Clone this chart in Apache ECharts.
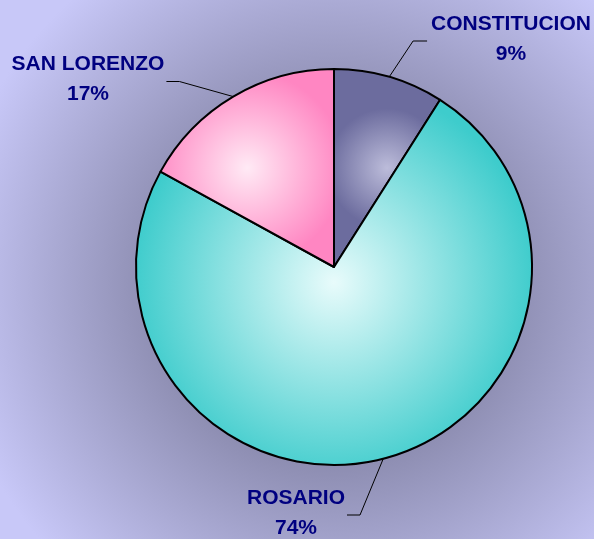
<!DOCTYPE html>
<html>
<head>
<meta charset="utf-8">
<script src="https://cdn.jsdelivr.net/npm/echarts@6/dist/echarts.min.js"></script>
<style>
html,body{margin:0;padding:0;width:594px;height:539px;overflow:hidden;}
#chart{width:594px;height:539px;}
</style>
</head>
<body>
<div id="chart"></div>
<script>
// ---- data ----
var categories = ['CONSTITUCION', 'ROSARIO', 'SAN LORENZO'];
var values = [9, 74, 17];

// ---- styling ----
var sliceColors = [
  ['#bcbcda', '#6c6c9e'],
  ['#e8fbfb', '#3ecccc'],
  ['#ffeaf5', '#ff86c2']
];
// label block centres and side of the leader line (layout only)
var labelPlacement = [
  {x: 511, y: 39, side: 'left'},
  {x: 296, y: 513, side: 'right'},
  {x: 88, y: 79.5, side: 'right'}
];

function radial(c) {
  return {
    type: 'radial', x: 0.5, y: 0.5, r: 0.55,
    colorStops: [{offset: 0, color: c[0]}, {offset: 1, color: c[1]}]
  };
}

var data = categories.map(function (name, i) {
  return {name: name, value: values[i], itemStyle: {color: radial(sliceColors[i])}};
});

var chart = echarts.init(document.getElementById('chart'), null, {renderer: 'canvas'});
chart.setOption({
  animation: false,
  backgroundColor: {
    type: 'radial', x: 0.56, y: 0.53, r: 0.72,
    colorStops: [
      {offset: 0, color: '#78789a'},
      {offset: 0.45, color: '#8c8cb0'},
      {offset: 1, color: '#c8c8f8'}
    ]
  },
  series: [{
    type: 'pie',
    center: [334, 267],
    radius: 198,
    startAngle: 90,
    clockwise: true,
    avoidLabelOverlap: false,
    emphasis: {disabled: true},
    data: data,
    itemStyle: {borderColor: '#000', borderWidth: 2},
    label: {
      show: true,
      position: 'outside',
      formatter: '{b}\n{c}%',
      color: '#000080',
      fontFamily: '"Liberation Sans", Arial, sans-serif',
      fontWeight: 'bold',
      fontSize: 21,
      lineHeight: 30,
      align: 'center'
    },
    labelLine: {
      show: true,
      length: 20,
      length2: 10,
      smooth: false,
      lineStyle: {color: '#000', width: 1}
    },
    labelLayout: function (params) {
      var p = labelPlacement[params.dataIndex];
      var w = params.labelRect.width;
      var start = params.labelLinePoints ? params.labelLinePoints[0] : [p.x, p.y];
      var endX, elbowX;
      if (p.side === 'left') {
        endX = p.x - w / 2 - 4;
        elbowX = endX - 14;
      } else {
        endX = p.x + w / 2 + 2;
        elbowX = endX + 13;
      }
      var endY = p.y + 2;
      return {
        x: p.x,
        y: p.y,
        align: 'center',
        verticalAlign: 'middle',
        labelLinePoints: [start, [elbowX, endY], [endX, endY]]
      };
    }
  }]
});
</script>
</body>
</html>
